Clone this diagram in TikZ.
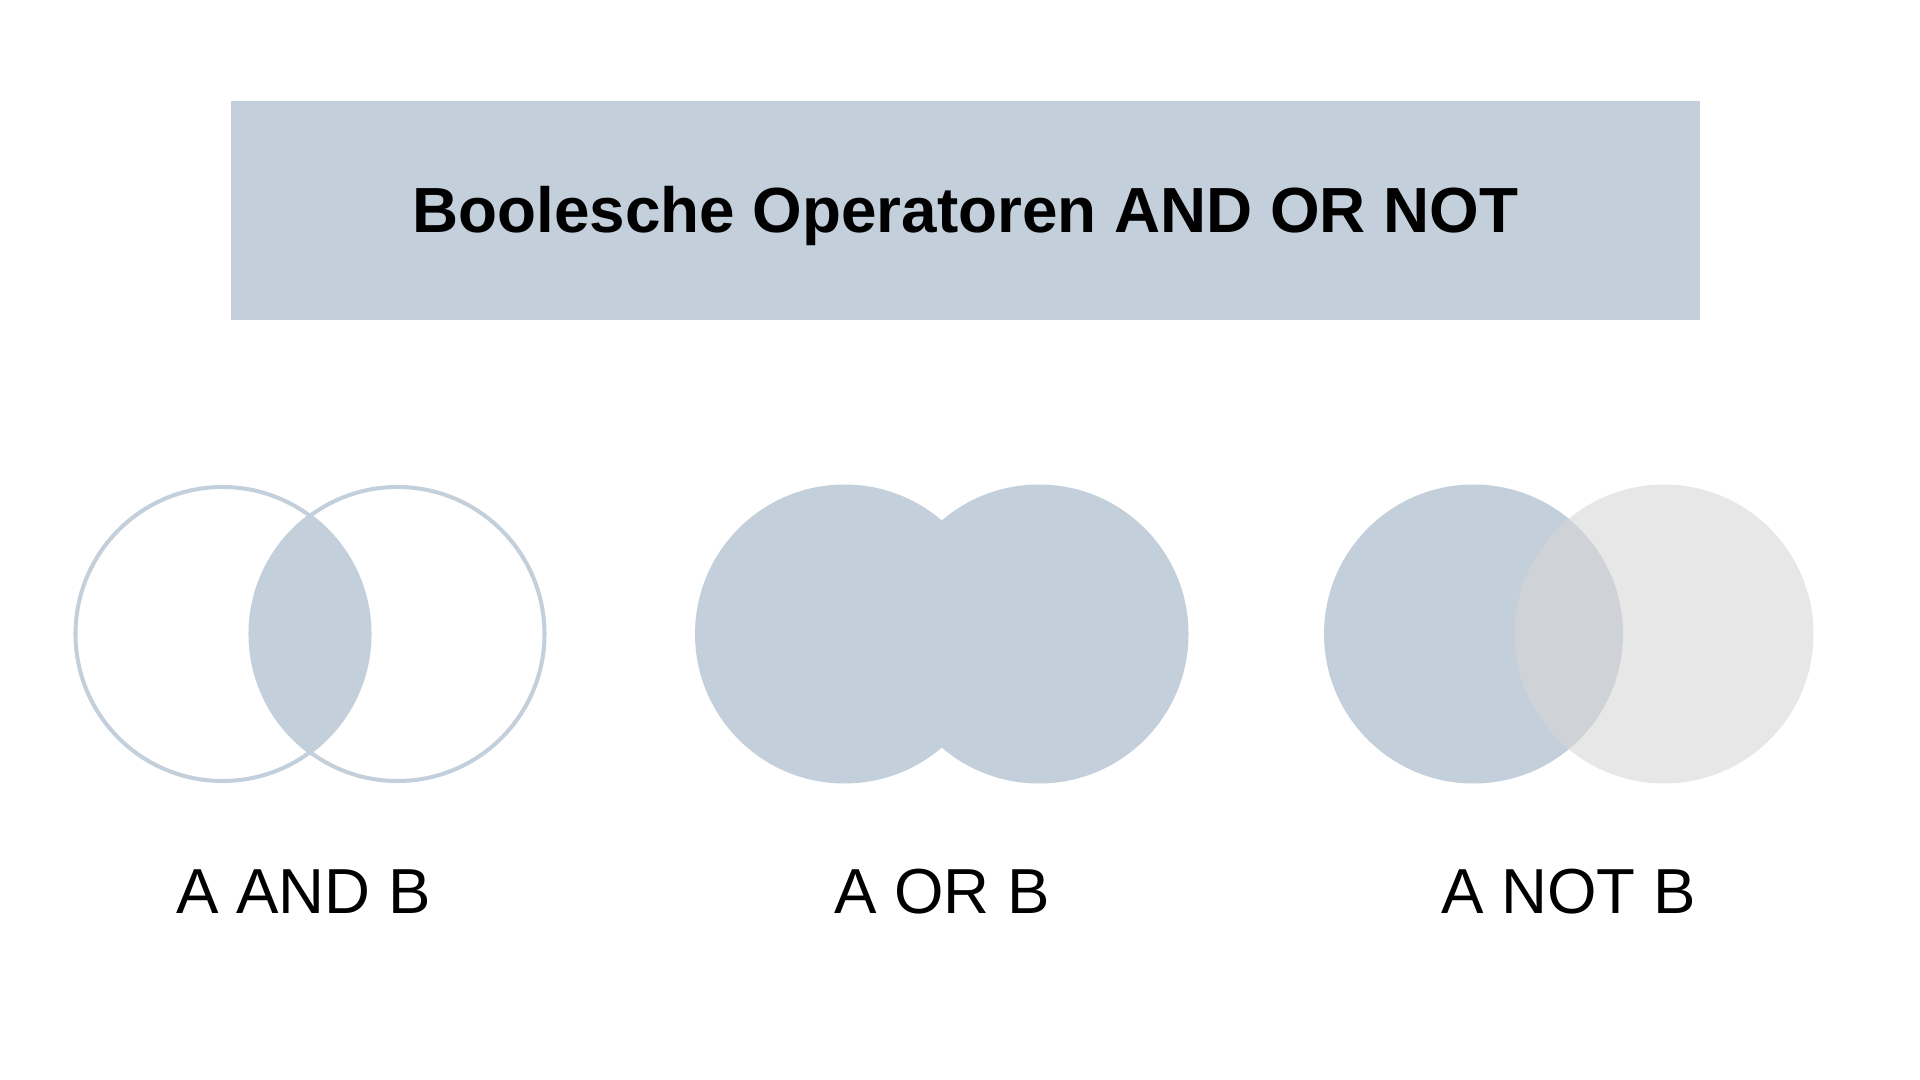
\documentclass[tikz,border=0pt]{standalone}
\usepackage{fontspec}
\setmainfont{Liberation Sans}
\usetikzlibrary{positioning}

\definecolor{boolblue}{RGB}{195,207,219}
\definecolor{boolgray}{RGB}{215,215,215}

\begin{document}
\begin{tikzpicture}[thick,
    setcircle/.style={circle, minimum size=2.99cm, inner sep=0pt},
    setlabel/.style={anchor=base, font=\fontsize{18.1}{22}\selectfont}]
      \useasboundingbox (0,0) rectangle (19.2,-10.8);

      % title bar
      \node (rect) at (9.655,-2.105)
      [fill=boolblue, minimum width=14.69cm, minimum height=2.19cm, name=titlebox] {};

      \node at (9.655,-2.33)
      [anchor=base, name=title, font=\fontsize{18.15}{22}\selectfont\bfseries]
      {Boolesche Operatoren AND OR NOT};

      % A AND B
      \node at (2.225,-6.34) [setcircle, name=andA] {};
      \node at (3.975,-6.34) [setcircle, name=andB] {};
      \begin{scope}
        \clip (andA.center) circle (1.47);
        \fill [boolblue] (andB.center) circle (1.47);
      \end{scope}
      \draw [boolblue, line width=1.15pt] (andA.center) circle (1.47);
      \draw [boolblue, line width=1.15pt] (andB.center) circle (1.47);

      \node at (3.035,-9.13) [setlabel, name=andlabel] {A AND B};

      % A OR B
      \node at (8.445,-6.34) [setcircle, fill=boolblue, name=orA] {};
      \node at (10.39,-6.34) [setcircle, fill=boolblue, name=orB] {};

      \node at (9.42,-9.13) [setlabel, name=orlabel] {A OR B};

      % A NOT B
      \node at (14.735,-6.34) [setcircle, fill=boolblue, name=notA] {};
      \node at (16.64,-6.34) [setcircle, fill=boolgray, fill opacity=0.6, name=notB] {};

      \node at (15.685,-9.13) [setlabel, name=notlabel] {A NOT B};
    \end{tikzpicture}
\end{document}
